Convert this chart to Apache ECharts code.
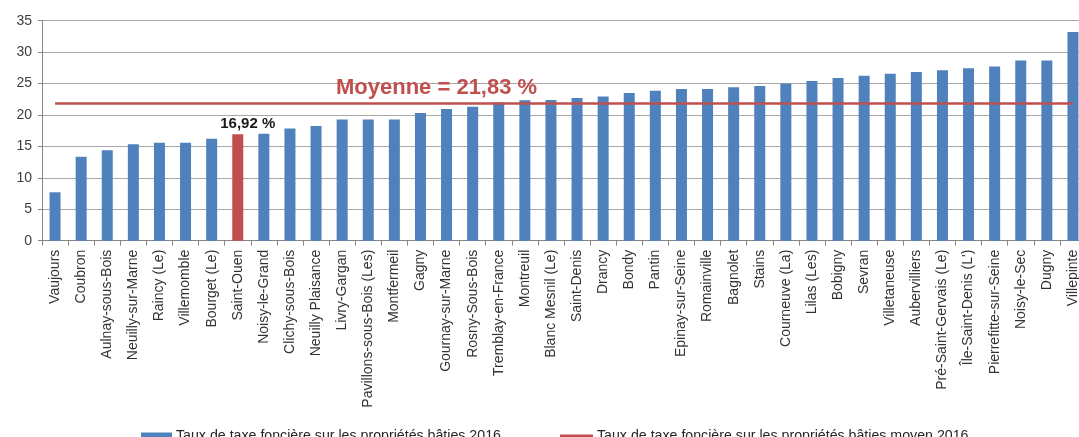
<!DOCTYPE html>
<html>
<head>
<meta charset="utf-8">
<script src="https://cdn.jsdelivr.net/npm/echarts@6/dist/echarts.min.js"></script>
<style>
  html, body { margin: 0; padding: 0; background: #fff; overflow: hidden; }
  /* un peu plus large que la fenetre : la derniere barre est coupee */
  #chart { width: 1086px; height: 437px; }
</style>
</head>
<body>
<div id="chart"></div>
<script>
// communes de Seine-Saint-Denis, triees par taux
var communes = ['Vaujours', 'Coubron', 'Aulnay-sous-Bois', 'Neuilly-sur-Marne', 'Raincy (Le)',
    'Villemomble', 'Bourget (Le)', 'Saint-Ouen', 'Noisy-le-Grand', 'Clichy-sous-Bois',
    'Neuilly Plaisance', 'Livry-Gargan', 'Pavillons-sous-Bois (Les)', 'Montfermeil', 'Gagny',
    'Gournay-sur-Marne', 'Rosny-Sous-Bois', 'Tremblay-en-France', 'Montreuil', 'Blanc Mesnil (Le)',
    'Saint-Denis', 'Drancy', 'Bondy', 'Pantin', 'Epinay-sur-Seine',
    'Romainville', 'Bagnolet', 'Stains', 'Courneuve (La)', 'Lilas (Les)',
    'Bobigny', 'Sevran', 'Villetaneuse', 'Aubervilliers', 'Pré-Saint-Gervais (Le)',
    'Île-Saint-Denis (L\')', 'Pierrefitte-sur-Seine', 'Noisy-le-Sec', 'Dugny', 'Villepinte'];

// taux de taxe fonciere 2016
var taux = [7.7, 13.35, 14.4, 15.35, 15.6,
    15.6, 16.2, 16.92, 17.0, 17.85,
    18.25, 19.3, 19.3, 19.3, 20.3,
    20.95, 21.3, 22.0, 22.35, 22.4,
    22.7, 22.95, 23.5, 23.85, 24.15,
    24.15, 24.4, 24.6, 25.0, 25.4,
    25.9, 26.25, 26.55, 26.85, 27.1,
    27.45, 27.7, 28.65, 28.65, 33.2];

var moyenne = 21.83;
var villeMiseEnAvant = 'Saint-Ouen';
var nomBarres = 'Taux de taxe foncière sur les propriétés bâties 2016';
var nomMoyenne = 'Taux de taxe foncière sur les propriétés bâties moyen 2016';

var BLEU = '#4f81bd';
var ROUGE = '#c0504d';

function virgule(v) {
    return String(v).replace('.', ',') + ' %';
}

var myChart = echarts.init(document.getElementById('chart'));

var barData = taux.map(function (v, i) {
    if (communes[i] === villeMiseEnAvant) {
        return {
            value: v,
            itemStyle: { color: ROUGE },
            label: {
                show: true,
                position: 'top',
                distance: 5,
                offset: [10, 2],
                formatter: virgule(v),
                fontFamily: 'Liberation Sans',
                fontWeight: 'bold',
                fontSize: 15,
                color: '#1a1a1a'
            }
        };
    }
    return v;
});

// ligne de moyenne
var lineData = communes.map(function () { return moyenne; });

var option = {
    animation: false,
    textStyle: { fontFamily: 'Liberation Sans' },
    grid: { left: 42, right: 0, top: 20.7, bottom: 196.3, containLabel: false },
    legend: [{
        left: 136,
        top: 424,
        itemWidth: 31,
        itemHeight: 7,
        itemGap: 4,
        icon: 'rect',
        data: [nomBarres],
        textStyle: { fontSize: 14.2, color: '#262626', fontFamily: 'Liberation Sans', padding: [0, 0, 0, -1] }
    }, {
        left: 555,
        top: 424,
        itemWidth: 33,
        itemHeight: 3,
        itemGap: 4,
        icon: 'rect',
        data: [nomMoyenne],
        textStyle: { fontSize: 14.2, color: '#262626', fontFamily: 'Liberation Sans', padding: [0, 0, 0, -1] }
    }],
    xAxis: {
        type: 'category',
        data: communes,
        axisLine: { lineStyle: { color: '#868686', width: 1 } },
        axisTick: { show: true, length: 5, lineStyle: { color: '#868686' } },
        axisLabel: {
            rotate: 90,
            interval: 0,
            margin: 9,
            fontSize: 14,
            color: '#333333',
            fontFamily: 'Liberation Sans'
        }
    },
    yAxis: {
        type: 'value',
        min: 0,
        max: 35,
        interval: 5,
        axisLine: { show: true, lineStyle: { color: '#868686' } },
        axisTick: { show: true, length: 4, lineStyle: { color: '#868686' } },
        axisLabel: { margin: 10, fontSize: 14, color: '#404040', fontFamily: 'Liberation Sans' },
        splitLine: { lineStyle: { color: '#a8a8a8', width: 1 } }
    },
    series: [{
        name: nomBarres,
        type: 'bar',
        barWidth: 11,
        itemStyle: { color: BLEU },
        data: barData
    }, {
        name: nomMoyenne,
        type: 'line',
        symbol: 'none',
        lineStyle: { color: ROUGE, width: 2.5 },
        itemStyle: { color: ROUGE },
        data: lineData,
        markPoint: {
            symbol: 'circle',
            symbolSize: 0,
            data: [{
                coord: [communes[15], moyenne],
                label: {
                    show: true,
                    position: 'top',
                    distance: 5,
                    offset: [-10, 0],
                    formatter: 'Moyenne = ' + virgule(moyenne),
                    fontFamily: 'Liberation Sans',
                    fontWeight: 'bold',
                    fontSize: 22,
                    color: ROUGE
                }
            }]
        }
    }]
};

myChart.setOption(option);
</script>
</body>
</html>
